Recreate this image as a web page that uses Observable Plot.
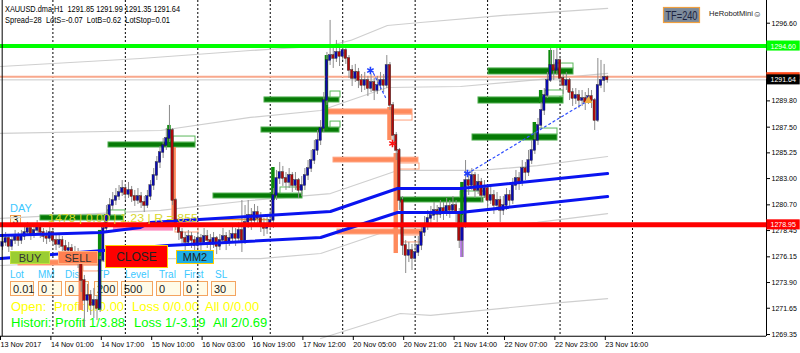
<!DOCTYPE html>
<html><head><meta charset="utf-8">
<script src="https://cdn.jsdelivr.net/npm/d3@7"></script>
<script src="https://cdn.jsdelivr.net/npm/@observablehq/plot@0.6"></script>
<style>body{margin:0;background:#fff;} #chart{width:800px;height:353px;overflow:hidden}</style>
</head><body><div id="chart"></div>
<script>
// ---- candle data (H1 bars, index 0 = 13 Nov 08:00) ----
const firstOpen = 1277.06;
const closes = [1277.41,1277.76,1277.06,1277.58,1277.93,1277.58,1277.93,1278.28,1278.63,1278.11,
1278.46,1278.81,1278.28,1277.93,1277.76,1278.28,1277.58,1277.23,1277.58,1277.06,
1276.70,1276.88,1276.35,1276.53,1276.00,1274.08,1272.33,1272.77,1271.89,1272.33,
1271.63,1275.83,1278.63,1279.77,1280.64,1281.08,1281.43,1281.78,1282.13,1281.61,
1281.96,1281.43,1281.08,1281.43,1280.91,1280.64,1281.43,1282.39,1283.27,1284.41,
1285.28,1285.89,1286.51,1287.21,1281.08,1278.98,1278.28,1277.76,1277.41,1277.93,
1277.58,1277.14,1277.76,1277.41,1277.93,1277.58,1277.23,1277.76,1277.06,1277.58,
1277.93,1277.41,1277.76,1278.11,1277.76,1278.46,1277.58,1279.16,1279.77,1279.33,
1280.03,1279.51,1278.89,1278.63,1278.81,1279.33,1281.52,1283.01,1283.53,1283.01,
1282.66,1283.27,1282.39,1282.83,1281.96,1282.39,1283.27,1283.88,1284.58,1285.46,
1286.33,1287.38,1289.83,1293.34,1293.77,1293.51,1294.04,1293.69,1294.21,1293.51,
1292.46,1291.76,1292.29,1291.58,1291.15,1291.58,1290.88,1291.41,1290.71,1291.15,
1291.58,1291.15,1292.90,1289.40,1286.77,1285.46,1281.08,1277.14,1276.27,1276.70,
1276.00,1276.53,1277.14,1278.28,1278.89,1279.51,1279.77,1280.21,1279.86,1280.38,
1280.03,1280.56,1280.21,1280.64,1280.03,1277.58,1278.89,1282.83,1282.39,1283.27,
1281.96,1282.66,1281.52,1282.13,1281.08,1281.52,1280.64,1281.08,1280.21,1280.64,
1281.52,1281.08,1282.39,1283.01,1282.66,1283.88,1283.53,1284.58,1285.46,1286.33,
1287.65,1288.96,1290.27,1291.58,1292.90,1292.46,1293.34,1291.76,1291.15,1291.58,
1290.53,1290.01,1290.27,1289.83,1290.01,1289.66,1290.18,1289.83,1288.08,1291.15,
1291.58,1291.85,1291.64];
const highs = [1278.11,1278.28,1277.93,1278.02,1278.46,1278.28,1278.46,1278.81,1279.16,1278.89,
1278.98,1279.33,1278.98,1278.63,1278.46,1278.81,1278.54,1278.11,1278.19,1277.93,
1277.58,1277.41,1277.23,1277.06,1276.88,1276.18,1274.52,1273.73,1273.20,1273.38,
1272.68,1276.18,1279.16,1280.64,1281.26,1281.78,1282.13,1282.39,1282.83,1282.48,
1282.66,1282.31,1281.96,1282.13,1281.78,1281.43,1281.96,1282.83,1283.88,1284.93,
1285.81,1286.51,1287.38,1289.40,1287.38,1281.26,1279.33,1278.63,1278.28,1278.46,
1278.28,1277.93,1278.28,1278.11,1278.63,1278.46,1278.11,1278.28,1277.93,1278.11,
1278.63,1278.28,1278.46,1278.81,1278.63,1279.16,1281.08,1280.64,1281.08,1280.38,
1280.73,1280.56,1280.03,1279.51,1279.68,1280.21,1282.13,1283.71,1284.41,1284.06,
1283.53,1283.88,1283.53,1283.53,1283.01,1283.18,1283.88,1284.58,1285.46,1286.33,
1287.21,1288.08,1290.53,1294.04,1296.84,1294.65,1295.09,1294.65,1295.09,1294.39,
1293.77,1292.90,1292.99,1292.64,1292.11,1292.29,1291.94,1292.11,1291.76,1291.94,
1292.29,1292.11,1293.77,1293.16,1289.66,1287.03,1285.63,1281.43,1277.58,1277.41,
1277.23,1277.41,1277.93,1278.81,1279.68,1280.21,1280.56,1280.91,1280.64,1281.08,
1280.91,1281.26,1281.08,1281.43,1281.08,1280.38,1279.77,1284.58,1283.53,1283.88,
1283.53,1283.36,1283.01,1282.83,1282.31,1282.31,1281.96,1281.78,1281.43,1281.43,
1282.13,1281.96,1283.01,1283.71,1283.53,1284.58,1284.41,1285.46,1286.33,1287.03,
1288.26,1289.66,1290.88,1292.29,1294.47,1294.21,1294.47,1293.51,1292.11,1292.29,
1291.76,1290.88,1290.88,1290.71,1290.71,1290.53,1290.88,1290.71,1290.01,1293.51,
1293.34,1292.99,1291.99];
const lows = [1276.70,1277.06,1276.53,1276.70,1277.23,1277.06,1277.23,1277.58,1277.93,1277.58,
1277.76,1278.11,1277.76,1277.41,1277.23,1277.41,1277.06,1276.70,1276.88,1276.53,
1276.18,1276.27,1275.83,1276.00,1275.13,1273.03,1269.97,1271.28,1271.02,1270.75,
1270.58,1271.28,1275.65,1278.28,1279.33,1280.21,1280.64,1281.08,1281.43,1281.08,
1281.26,1280.91,1280.56,1280.73,1280.38,1280.03,1280.38,1281.08,1281.96,1282.83,
1283.88,1284.76,1285.46,1286.16,1280.64,1278.46,1277.58,1277.06,1276.70,1277.06,
1276.88,1276.53,1276.88,1276.70,1277.23,1276.88,1276.70,1276.88,1276.35,1276.70,
1277.23,1276.70,1277.06,1277.41,1277.06,1277.41,1276.53,1277.23,1278.63,1278.46,
1278.98,1278.81,1278.28,1277.93,1278.11,1278.46,1278.63,1281.08,1282.48,1282.31,
1281.96,1282.13,1281.78,1281.96,1281.26,1281.43,1281.96,1282.83,1283.53,1284.23,
1285.02,1285.89,1287.03,1289.40,1292.90,1292.64,1293.16,1292.81,1293.34,1292.99,
1291.76,1291.06,1291.41,1290.88,1290.53,1290.71,1290.18,1290.53,1289.83,1290.36,
1290.71,1290.53,1290.88,1288.96,1286.16,1284.58,1280.21,1276.27,1274.69,1275.65,
1274.95,1275.65,1276.18,1276.70,1277.93,1278.46,1278.98,1279.33,1279.16,1279.51,
1279.33,1279.68,1279.51,1279.86,1279.16,1276.88,1276.09,1278.63,1281.52,1281.96,
1281.26,1281.61,1280.91,1281.26,1280.38,1280.73,1279.86,1280.21,1279.16,1279.77,
1280.21,1280.56,1280.73,1281.96,1281.96,1282.31,1282.83,1283.18,1284.23,1285.11,
1285.89,1287.38,1288.52,1290.01,1291.41,1291.58,1292.02,1291.06,1290.36,1290.71,
1289.83,1289.31,1289.48,1289.13,1289.31,1288.96,1289.48,1289.13,1287.21,1287.91,
1290.88,1290.53,1291.35];

// ---- time axis ----
const timeTickIdx = [0,16,32,48,64,80,96,112,128,144,160,176,192];
const timeLabels = ["13 Nov 2017","14 Nov 01:00","14 Nov 17:00","15 Nov 10:00","16 Nov 03:00","16 Nov 19:00","17 Nov 12:00","20 Nov 05:00","20 Nov 21:00","21 Nov 14:00","22 Nov 07:00","22 Nov 23:00","23 Nov 16:00"];
const gridIdx = [16,39,62,85,108,131,154,177,200];

// ---- price axis ----
const priceTicks = [1296.60,1289.80,1287.50,1285.25,1283.00,1280.70,1278.45,1276.15,1273.90,1271.65,1269.35];
const levelGreen = 1294.60, levelRed = 1278.95, bid = 1291.64, ask = 1291.92;
const priceBoxes = [
  {p: 1294.60, fill: "#00ff00", text: "1294.60"},
  {p: 1291.64, fill: "#000000", text: "1291.64"},
  {p: 1278.95, fill: "#ff0000", text: "1278.95"}
];
const askBox = [{p: 1291.97, fill: "#ff4a1a"}];

// ---- envelope (gray) lines: [bar index, price] ----
const env1 = [[-0.63,1292.81],[43.8,1293.51],[78.7,1294.21],[104.1,1294.65],[110.5,1295.09],[122.2,1296.40],[132.7,1296.66],[158.1,1297.27],[192.1,1297.89]];
const env2 = [[-0.63,1286.95],[50.2,1287.21],[78.7,1288.35],[101.0,1288.96],[122.2,1290.97],[145.4,1291.06],[192.1,1292.20]];
const env3 = [[-0.63,1279.51],[50.2,1280.21],[78.7,1281.08],[104.1,1281.69],[125.4,1283.71],[151.7,1283.71],[169.8,1284.14],[192.1,1284.93]];
const env4 = [[-0.63,1275.39],[52.4,1276.00],[81.9,1276.00],[101.0,1276.44],[125.4,1278.72],[151.7,1278.72],[169.8,1279.16],[192.1,1279.94]];
const env5 = [[101.0,1269.00],[126.3,1271.19],[135.9,1271.02],[177.1,1272.15],[192.1,1272.50]];
// ---- blue moving averages ----
const blue1 = [[-0.63,1278.02],[31.1,1278.28],[43.8,1278.72],[47.0,1279.16],[104.1,1280.12],[125.4,1282.13],[145.4,1282.13],[192.1,1283.44]];
const blue2 = [[-0.63,1276.00],[52.4,1277.14],[101.0,1277.84],[125.4,1280.03],[145.4,1280.03],[192.1,1281.43]];
// ---- dotted trend links & markers ----
const dash1 = [[117.8,1292.20],[121.6,1290.10]];
const dash2 = [[147.6,1283.44],[186.0,1289.83]];
const blueStars = [[116.8,1292.46],[147.6,1283.44]];
const redStars = [[123.8,1286.07]];
const orangeMarks = [[186.0,1289.83]];

// ---- level bars [i0, i1, priceTop, priceBottom] ----
const greenBars = [[12.06,38.41,1279.77,1279.33],[33.65,61.27,1286.16,1285.72],[66.98,95.24,1281.69,1281.26],[83.17,106.98,1290.10,1289.66],[82.22,106.98,1287.47,1287.03],[126.35,152.70,1281.34,1280.91],[154.29,181.27,1292.64,1292.11],[151.11,178.10,1290.10,1289.57],[149.21,176.19,1286.86,1286.33]];
const greenBoxes = [[33.33,39.05,1280.21,1279.77],[54.29,61.27,1286.68,1286.16],[104.13,107.30,1290.62,1290.10],[104.13,107.30,1287.99,1287.47],[145.40,153.33,1281.87,1281.34],[175.56,181.27,1293.07,1292.64],[172.38,178.10,1290.71,1290.18],[170.16,176.19,1287.38,1286.86],[88.25,95.24,1282.22,1281.69]];
const salmonBars = [[103.17,130.16,1289.05,1288.61],[105.08,132.06,1284.83,1284.41],[106.35,133.33,1278.54,1278.11],[5.08,31.11,1275.83,1275.39]];
const pinkBars = [[35.24,54.29,1278.72,1278.40]];
const orangeLine = [[54.3,1279.42],[84.1,1279.42]];
const salmonBoxes = [[124.13,130.16,1288.61,1288.08],[126.03,132.38,1284.32,1283.79],[127.30,133.33,1278.02,1277.41],[25.71,31.11,1275.39,1274.87],[54.92,62.22,1278.81,1278.28]];
// ---- candle highlights [bar index, priceTop, priceBottom] ----
const greenMarks = [[31,1278.46,1271.45],[53,1287.65,1285.72],[86,1283.97,1281.08],[103,1293.77,1287.21],[146,1282.66,1278.72],[174,1294.21,1292.20],[171,1290.71,1289.57],[169,1287.91,1286.33]];
const violetMarks = [[146,1278.72,1276.09]];
const salmonMarks = [[54.5,1285.72,1278.72],[123,1289.22,1286.33],[125,1285.19,1276.44],[25,1275.83,1271.45]];

const bars = closes.map((c, i) => ({i, o: i === 0 ? firstOpen : closes[i-1], c, h: highs[i], l: lows[i]}));
const pts = a => a.map(([i, p]) => ({i, p}));
const rects = a => a.map(([i0, i1, p0, p1]) => ({i0, i1, p0, p1}));

const X0 = -0.635, X1 = 242.54;
const chart = Plot.plot({
  width: 800, height: 353,
  marginLeft: 0, marginRight: 34, marginTop: 0, marginBottom: 17,
  x: {domain: [X0, X1], axis: null},
  y: {domain: [1269.177, 1298.587], axis: null},
  style: {fontFamily: "'Liberation Sans', Arial, sans-serif", fontSize: "7.8px", background: "#fff", overflow: "visible"},
  marks: [
    Plot.ruleX(gridIdx, {stroke: "#000", strokeDasharray: "2,2", strokeWidth: 1}),
    ...[env1, env2, env3, env4, env5].map(e => Plot.line(pts(e), {x: "i", y: "p", stroke: "#cfcfcf", strokeWidth: 1.2})),
    Plot.rect(rects(greenBars), {x1: "i0", x2: "i1", y1: "p0", y2: "p1", fill: "#067a06", stroke: "#4fae4f", strokeWidth: 1}),
    Plot.rect(rects(greenBoxes), {x1: "i0", x2: "i1", y1: "p0", y2: "p1", fill: "#fff", stroke: "#5cb85c", strokeWidth: 1}),
    Plot.rect(rects(salmonBars), {x1: "i0", x2: "i1", y1: "p0", y2: "p1", fill: "#ff8a5c", stroke: "#ffa27f", strokeWidth: 1}),
    Plot.rect(rects(pinkBars), {x1: "i0", x2: "i1", y1: "p0", y2: "p1", fill: "#ff8cc0"}),
    Plot.line(pts(orangeLine), {x: "i", y: "p", stroke: "#ff9a20", strokeWidth: 1.5}),
    Plot.rect(rects(salmonBoxes), {x1: "i0", x2: "i1", y1: "p0", y2: "p1", fill: "none", stroke: "#ffa07a", strokeWidth: 1}),
    Plot.rect(greenMarks.map(([i, a, b]) => ({i, a, b})), {x1: d => d.i - 0.55, x2: d => d.i + 0.55, y1: "a", y2: "b", fill: "#0b8a0b"}),
    Plot.rect(violetMarks.map(([i, a, b]) => ({i, a, b})), {x1: d => d.i - 0.55, x2: d => d.i + 0.55, y1: "a", y2: "b", fill: "#b070e0"}),
    Plot.rect(salmonMarks.map(([i, a, b]) => ({i, a, b})), {x1: d => d.i - 0.7, x2: d => d.i + 0.7, y1: "a", y2: "b", fill: "#ff8a5c"}),
    Plot.ruleY([bid], {stroke: "#c8c8c8", strokeWidth: 1}),
    Plot.ruleY([ask], {stroke: "#f9a88c", strokeWidth: 2}),
    // candles
    Plot.ruleX(bars, {x: "i", y1: "l", y2: "h", stroke: "#8c8c8c", strokeWidth: 1}),
    Plot.rect(bars, {x1: d => d.i - 0.38, x2: d => d.i + 0.38,
      y1: d => Math.min(d.o, d.c) - 0.03, y2: d => Math.max(d.o, d.c) + 0.03,
      fill: d => d.c >= d.o ? "#0a0ab4" : "#b40a0a", stroke: "#202020", strokeWidth: 0.4}),
    // dotted links
    Plot.line(pts(dash1), {x: "i", y: "p", stroke: "#3050ff", strokeDasharray: "2,3", strokeWidth: 1.2}),
    Plot.line(pts(dash2), {x: "i", y: "p", stroke: "#3050ff", strokeDasharray: "2,3", strokeWidth: 1.2}),
    Plot.dot(pts(blueStars), {x: "i", y: "p", symbol: "asterisk", r: 3.5, stroke: "#2040ff", strokeWidth: 1.6}),
    Plot.dot(pts(redStars), {x: "i", y: "p", symbol: "asterisk", r: 3.5, stroke: "#ff1010", strokeWidth: 1.6}),
    Plot.dot(pts(orangeMarks), {x: "i", y: "p", symbol: "triangle", r: 3, fill: "#f0b040"}),
    // blue MAs
    Plot.line(pts(blue1), {x: "i", y: "p", stroke: "#0a14f0", strokeWidth: 3}),
    Plot.line(pts(blue2), {x: "i", y: "p", stroke: "#0a14f0", strokeWidth: 3}),
    // level lines
    Plot.ruleY([levelGreen], {stroke: "#00ff00", strokeWidth: 4}),
    Plot.ruleY([levelRed], {stroke: "#ff0000", strokeWidth: 5}),
    // frame
    Plot.ruleX([-0.1], {stroke: "#000"}),
    Plot.ruleX([X1], {stroke: "#000"}),
    Plot.ruleY([1269.20], {stroke: "#000"}),
    // axes
    Plot.axisY(priceTicks, {anchor: "right", tickSize: 3, tickPadding: 2, tickFormat: d => d.toFixed(2), fill: "#000"}),
    Plot.axisX(timeTickIdx, {anchor: "bottom", tickSize: 4, tickPadding: 1, textAnchor: "start", dx: -2,
      tickFormat: d => timeLabels[timeTickIdx.indexOf(d)], fill: "#000", fontSize: 8}),
    // price boxes on the axis
    Plot.rect(askBox, {x1: X1 + 0.1, x2: X1 + 10.7, y1: d => d.p - 0.3, y2: d => d.p + 0.3, fill: "fill"}),
    Plot.rect(priceBoxes, {x1: X1 + 0.1, x2: X1 + 10.7, y1: d => d.p - 0.44, y2: d => d.p + 0.44, fill: "fill"}),
    Plot.text(priceBoxes, {x: X1, y: "p", text: "text", textAnchor: "start", dx: 4, fill: "#fff", fontSize: 7.8})
  ]
});
document.getElementById("chart").appendChild(chart);

const svg = d3.select(chart);
// narrow terminal font: squeeze axis text slightly
svg.selectAll('[aria-label="y-axis tick label"] text, [aria-label="x-axis tick label"] text, [aria-label="text"] text').each(function() {
  const L = this.getComputedTextLength();
  d3.select(this).attr("textLength", L * 0.9).attr("lengthAdjust", "spacingAndGlyphs");
});

// ---- EA interface: labels and edit boxes lie beneath the price marks, buttons above ----
const under = svg.insert("g", ":first-child").attr("font-family", "'Liberation Sans', Arial, sans-serif").attr("text-anchor", "start");
svg.insert("rect", ":first-child").attr("width", 800).attr("height", 353).attr("fill", "#fff");
const over = svg.append("g").attr("font-family", "'Liberation Sans', Arial, sans-serif").attr("text-anchor", "start");
function txt(g, x, y, s, size, fill, len, anchor) {
  const t = g.append("text").attr("x", x).attr("y", y).attr("font-size", size).attr("fill", fill)
    .attr("text-anchor", anchor || "start").text(s);
  if (len) t.attr("textLength", len).attr("lengthAdjust", "spacingAndGlyphs");
  return t;
}
function box(g, x, y, w, h, fill, stroke, sw) {
  return g.append("rect").attr("x", x).attr("y", y).attr("width", w).attr("height", h).attr("fill", fill).attr("stroke", stroke || "none").attr("stroke-width", sw || 1);
}
txt(over, 5, 12, "XAUUSD.dma,H1  1291.85 1291.99 1291.35 1291.64", 9, "#000", 175);
txt(over, 5, 23, "Spread=28  LotS=-0.07  LotB=0.62  LotStop=0.01", 9, "#000", 165);
box(over, 663.5, 7.5, 36, 15, "#7d8b9c", "#f0a040", 1.2);
txt(over, 681.5, 19.5, "TF=240", 12, "#1c2440", 32, "middle");
txt(over, 709, 16, "HeRobotMini", 7.6, "#202020");
txt(over, 753, 17, "\u263A", 8.5, "#202020");

txt(under, 10, 212, "DAY", 11, "#3cc8ff");
box(under, 10.5, 215.5, 10, 10, "#fff8dc", "#f0a050");
txt(under, 15.5, 224, "3", 10, "#000", null, "middle");
txt(over, 48, 222, "1478 | 0.00 | 1.23 | R = 855", 11, "#d8d830", 150);

box(over, 10.5, 251.5, 39, 12, "#9acd32", "#c0e040");
txt(over, 30, 261.5, "BUY", 11, "#333", null, "middle");
box(over, 58.5, 251.5, 39, 12, "#ff7f50", "#ffb080");
txt(over, 78, 261.5, "SELL", 11, "#333", null, "middle");
box(over, 105.5, 245.5, 62, 22, "#ff0000", "#ffd000");
txt(over, 136.5, 261, "CLOSE", 12, "#222", null, "middle");
box(over, 176.5, 250.5, 37, 13, "#1eaee6", "#ffd000");
txt(over, 195, 261, "MM2", 11, "#222", null, "middle");

const labs = [["Lot",10],["MM",38],["Dist",65],["TP",97],["Level",125],["Tral",159],["First",184],["SL",215]];
labs.forEach(([s, x]) => txt(under, x, 278, s, 10, "#3cc8ff"));
const inputs = [["0.01",10,23],["0",38,23],["0",65,23],["200",94,23],["500",121,31],["0",156,24],["0",183,24],["30",211,24]];
inputs.forEach(([s, x, w]) => { box(under, x + 0.5, 281.5, w, 14, "#fffbe8", "#f4a460"); txt(under, x + 3, 292.5, s, 11, "#222"); });

txt(under, 11, 311, "Open:", 13, "#ffff00");
txt(under, 54, 311, "Profit 0/0.00", 13, "#ffff00");
txt(under, 132, 311, "Loss 0/0.00", 13, "#ffff00");
txt(under, 205, 311, "All 0/0.00", 13, "#ffff00");
txt(under, 11, 327, "Histori:", 13, "#00ff00");
txt(under, 55, 327, "Profit 1/3.88", 13, "#00ff00");
txt(under, 134, 327, "Loss 1/-3.19", 13, "#00ff00");
txt(under, 213, 327, "All 2/0.69", 13, "#00ff00");
</script></body></html>
